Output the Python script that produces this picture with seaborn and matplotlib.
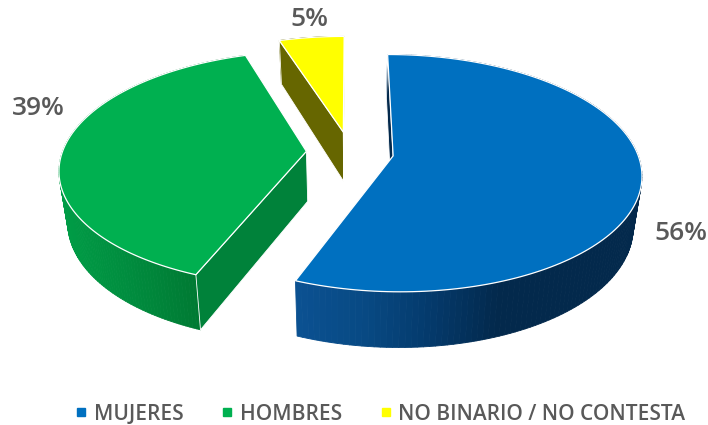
import numpy as np
import matplotlib
matplotlib.use("Agg")
import matplotlib.pyplot as plt
from matplotlib.collections import PolyCollection
from matplotlib.lines import Line2D
from matplotlib.patches import Polygon
import seaborn as sns

# data
categories = ["MUJERES", "HOMBRES", "NO BINARIO / NO CONTESTA"]
shares = [56, 39, 5]

# colours
top_colors = ["#0070C0", "#00B050", "#FFFF00"]
side_stops = [
    ["#0B5192", "#084A84", "#043A6C", "#03294C", "#03294C", "#03294C"],
    ["#009C46", "#008C3E", "#007A33"],
    ["#666600", "#666600"],
]
cut_colors = ["#03294C", "#00823A", "#666600"]
side_range = [(296, 640), (60, 197), (280, 345)]
grey = "#595959"

# layout of the fake 3d pie (pixels)
cx, cy = 350, 152
rad_x, rad_y = 244, 115
persp = 0.145
explode = 0.179
depth_mid, depth_tilt = 50, 5.5
shrink = 0.97
label_pos = [(681, 233), (38, 108), (309, 19)]

sns.set_theme(style="white")
plt.rcParams["font.family"] = ["Open Sans", "DejaVu Sans"]

fig = plt.figure(figsize=(7.08, 4.25), dpi=100)
ax = fig.add_axes([0, 0, 1, 1])
ax.set_xlim(0, 708)
ax.set_ylim(425, 0)
ax.axis("off")


def project(u, v, bottom=False):
    # disc coords -> screen, with perspective, bottom plane pulled in a bit
    w = 1 + persp * v
    x = rad_x * u / w
    y = cy - rad_y * v / w
    if bottom:
        x = x * shrink
        y = y + depth_mid - depth_tilt * v
    return cx + x, y


def signed_area(pts):
    xs, ys = np.array(pts).T
    return 0.5 * np.sum(xs * np.roll(ys, -1) - np.roll(xs, -1) * ys)


def draw_wedge(start, end, i):
    mid = (start + end) / 2
    off_u = explode * np.sin(mid)
    off_v = explode * np.cos(mid)
    ang = np.linspace(start, end, 160)
    u = off_u + np.sin(ang)
    v = off_v + np.cos(ang)

    # outer rim, coloured by screen x
    tx, ty = project(u, v)
    bx, by = project(u, v, bottom=True)
    cmap = sns.blend_palette(side_stops[i], as_cmap=True)
    lo, hi = side_range[i]
    quads, cols = [], []
    for k in range(len(ang) - 1):
        q = [(tx[k], ty[k]), (tx[k + 1], ty[k + 1]), (bx[k + 1], by[k + 1]), (bx[k], by[k])]
        quads.append(q)
        cols.append(cmap(np.clip((tx[k] - lo) / (hi - lo), 0, 1)))
    ax.add_collection(PolyCollection(quads, facecolors=cols, edgecolors=cols, linewidths=0.6, zorder=2 + i))

    # radial cut faces, only where they face the viewer
    for a, sign in ((start, -1), (end, 1)):
        ru, rv = off_u + np.sin(a), off_v + np.cos(a)
        face = [project(off_u, off_v), project(ru, rv), project(ru, rv, True), project(off_u, off_v, True)]
        if sign * signed_area(face) > 0:
            ax.add_patch(Polygon(face, facecolor=cut_colors[i], edgecolor="white", linewidth=0.6, zorder=2 + i))

    # top face
    ox, oy = project(off_u, off_v)
    top = [(ox, oy)] + list(zip(tx, ty))
    ax.add_patch(Polygon(top, facecolor=top_colors[i], edgecolor="white", linewidth=0.9, zorder=6 + i))


fracs = np.array(shares) / sum(shares)
bounds = np.concatenate([[0], np.cumsum(fracs)]) * 2 * np.pi
for i in range(len(shares)):
    draw_wedge(bounds[i], bounds[i + 1], i)

for val, (lx, ly) in zip(shares, label_pos):
    ax.text(lx, ly, f"{val}%", color=grey, fontsize=19, fontweight="semibold", ha="center", va="center", zorder=10)

handles = [Line2D([], [], linestyle="none", marker="s", markersize=5.5, color=c) for c in top_colors]
leg = ax.legend(handles, categories, ncol=3, loc="center", bbox_to_anchor=(380 / 708, 1 - 414 / 425),
                frameon=False, labelcolor=grey, handlelength=0.6, handletextpad=0.3, columnspacing=1.8,
                prop={"weight": "semibold", "size": 15})

fig.savefig("out.png", dpi=100)
